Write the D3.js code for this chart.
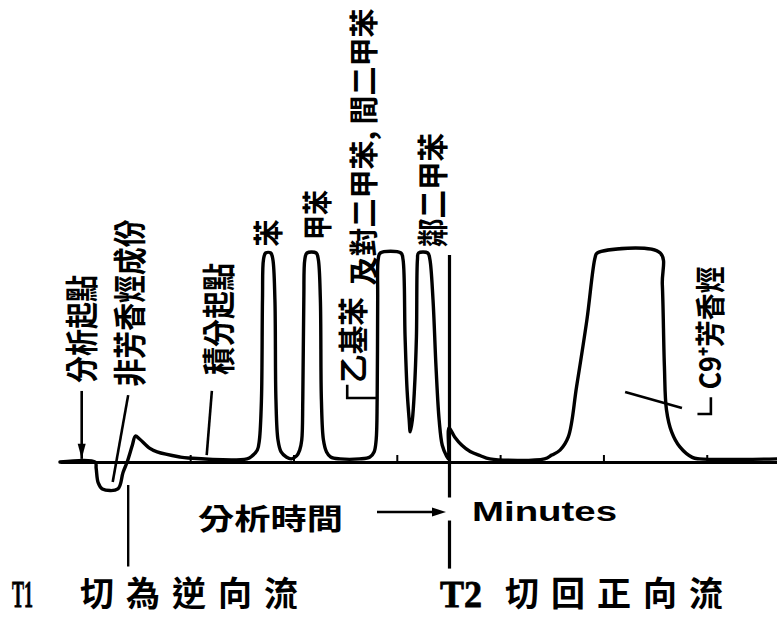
<!DOCTYPE html>
<html><head><meta charset="utf-8">
<script src="https://cdn.jsdelivr.net/npm/d3@7"></script>
<style>
html,body{margin:0;padding:0;background:#fff;}
svg{display:block;}
</style></head>
<body>
<svg id="chart" width="777" height="618"></svg>
<script>
// ---- data (time in minutes, detector signal in % of full scale) ----
const traceTime = [
 -0.26, 0.08, 0.09, 0.11, 0.15, 0.30, 0.35, 0.39, 0.44, 0.47, 0.51, 0.61, 0.68, 0.90, 0.98, 1.55,
 1.60, 1.65, 1.67, 1.69, 1.70, 1.71, 1.73, 1.78, 1.80, 1.82, 1.83, 1.85, 1.88, 1.93, 1.98,
 2.03, 2.06, 2.08, 2.09, 2.10, 2.11, 2.13, 2.22, 2.24, 2.26, 2.27, 2.29, 2.32, 2.36, 2.45, 2.64,
 2.74, 2.78, 2.80, 2.81, 2.815, 2.82, 2.84, 3.04, 3.06, 3.08, 3.10, 3.12, 3.13,
 3.15, 3.17, 3.19, 3.20, 3.21, 3.30, 3.32, 3.35, 3.38, 3.41, 3.44, 3.48, 3.50,
 3.505, 3.56, 3.63, 3.71, 3.81, 3.90, 4.43,
 4.50, 4.58, 4.66, 4.74, 4.84, 4.92, 4.94, 5.55, 5.57, 5.59, 5.61, 5.66, 5.74, 5.86, 5.93, 6.68
];
const traceSignal = [
 0, 0, -3, -10, -12.9, -12.9, -5, 0, 8, 12.4, 11, 6.5, 4.8, 2.4, 1.9, 1.5,
 2.9, 5.7, 10.5, 30, 78, 97, 100, 100, 97, 78, 30, 10.5, 4.8, 2.4, 1.5,
 2.9, 5.7, 10.5, 30, 78, 97, 100, 100, 97, 78, 30, 10.5, 4.8, 2.4, 1.5, 1.5,
 2.4, 4.8, 10.5, 30, 78, 97, 100, 100, 97, 60, 34, 20, 14.4,
 20, 34, 60, 97, 100, 100, 97, 78, 45, 20, 8, 3, 1.5,
 16.3, 12, 8, 5, 3, 1.5, 1.5,
 3.3, 5.7, 12, 36, 68, 98, 100, 100, 85, 46, 25, 14.4, 7.2, 2.2, 1.5, 1.5
];
const minuteTicks = [1, 2, 3, 4, 5, 6];
const switchTimes = [0.40, 3.51];              // T1, T2 valve switching
const switchNames = ["T1", "T2"];
const switchTexts = ["切為逆向流", "切回正向流"];
const peakLabels = ["分析起點", "非芳香烴成份", "積分起點", "苯", "甲苯", "乙基苯", "及對二甲苯, 間二甲苯", "鄰二甲苯", "C9⁺芳香烴"];
// leader lines [t0, v0, t1, v1]
const leaderLines = [
 [-0.05, 34, -0.05, 1.5],   // 分析起點 (arrow)
 [0.40, 32, 0.25, -9.6],    // 非芳香烴成份
 [1.21, 34, 1.16, 3.3],     // 積分起點
 [5.21, 33.5, 5.76, 25.8]   // C9+
];

// ---- layout ----
const x = d3.scaleLinear().domain([-0.26, 6.68]).range([60, 777]);
const y = d3.scaleLinear().domain([0, 100]).range([462, 253]);
const svg = d3.select("#chart");
const cjk = "'Noto Sans CJK TC','Noto Sans CJK SC',sans-serif";

// baseline axis with minute ticks
const axis = d3.axisTop(x).tickValues(minuteTicks).tickSize(7).tickSizeOuter(0).tickFormat("");
const ax = svg.append("g").attr("transform", `translate(0,${y(0)})`).call(axis);
ax.select(".domain").attr("stroke", "#000").attr("stroke-width", 3.2);
ax.selectAll(".tick line").attr("stroke", "#000").attr("stroke-width", 2);

// chromatogram trace
const pts = traceTime.map((t, i) => [t, traceSignal[i]]);
const line = d3.line().x(d => x(d[0])).y(d => y(d[1])).curve(d3.curveCatmullRom.alpha(0.5));
svg.append("path").attr("d", line(pts)).attr("fill", "none")
  .attr("stroke", "#000").attr("stroke-width", 3.4).attr("stroke-linejoin", "round").attr("stroke-linecap", "round");

// leader lines
svg.selectAll("line.leader").data(leaderLines).enter().append("line").attr("class", "leader")
  .attr("x1", d => x(d[0])).attr("y1", d => y(d[1])).attr("x2", d => x(d[2])).attr("y2", d => y(d[3]))
  .attr("stroke", "#000").attr("stroke-width", 2.6);
// arrowhead on 分析起點
{
  const ax0 = x(leaderLines[0][2]), ay0 = y(leaderLines[0][3]);
  svg.append("path").attr("d", `M${ax0},${ay0} L${ax0-4},${ay0-15} L${ax0+4},${ay0-15} Z`).attr("fill", "#000");
}
// brackets for 乙基苯 and C9+
svg.append("path").attr("d", `M${x(2.52)},${y(37)} V${y(30.6)} H${x(2.81)}`)
  .attr("fill", "none").attr("stroke", "#000").attr("stroke-width", 2.6);
svg.append("path").attr("d", `M${x(5.91)},${y(23)} H${x(6.04)} V${y(31)}`)
  .attr("fill", "none").attr("stroke", "#000").attr("stroke-width", 2.6);

// switch lines T1 / T2
svg.append("line").attr("x1", x(switchTimes[0])).attr("x2", x(switchTimes[0]))
  .attr("y1", y(-11)).attr("y2", y(-50)).attr("stroke", "#000").attr("stroke-width", 2.4);
svg.append("line").attr("x1", x(switchTimes[1])).attr("x2", x(switchTimes[1]))
  .attr("y1", y(99)).attr("y2", y(-17)).attr("stroke", "#000").attr("stroke-width", 3.2);
svg.append("line").attr("x1", x(switchTimes[1])).attr("x2", x(switchTimes[1]))
  .attr("y1", y(-28)).attr("y2", y(-51)).attr("stroke", "#000").attr("stroke-width", 3.2);

// rotated labels
const labelLayout = [
 {cx: 80,  cy: 329, len: 108, fs: 33},
 {cx: 128, cy: 303, len: 167, fs: 33},
 {cx: 217, cy: 319, len: 112, fs: 33},
 {cx: 266, cy: 233, len: 27,  fs: 30},
 {cx: 315, cy: 215, len: 50,  fs: 30},
 {cx: 351, cy: 340, len: 86,  fs: 30},
 {cx: 362, cy: 147, len: 0,   fs: 29},
 {cx: 430, cy: 190, len: 114, fs: 31},
 {cx: 708, cy: 328, len: 123, fs: 30}
];
svg.selectAll("text.plab").data(peakLabels).enter().append("text").attr("class", "plab")
  .attr("transform", (d, i) => `translate(${labelLayout[i].cx},${labelLayout[i].cy}) rotate(-90)`)
  .attr("text-anchor", "middle").attr("dominant-baseline", "central")
  .attr("font-family", cjk).attr("font-weight", 700)
  .attr("font-size", (d, i) => labelLayout[i].fs)
  .each(function(d, i) {
    if (labelLayout[i].len) d3.select(this).attr("textLength", labelLayout[i].len).attr("lengthAdjust", "spacingAndGlyphs");
  })
  .text(d => d);

// time axis caption
svg.append("text").attr("x", 198).attr("y", 517).attr("dominant-baseline", "central")
  .attr("font-family", cjk).attr("font-weight", 700).attr("font-size", 29)
  .attr("textLength", 145).attr("lengthAdjust", "spacingAndGlyphs").text("分析時間");
svg.append("line").attr("x1", 377).attr("x2", 440).attr("y1", 512).attr("y2", 512)
  .attr("stroke", "#000").attr("stroke-width", 2.6);
svg.append("path").attr("d", "M446,512 L432,507.5 L432,516.5 Z").attr("fill", "#000");
svg.append("text").attr("x", 472).attr("y", 521)
  .attr("font-family", "'Liberation Sans',Arial,sans-serif").attr("font-weight", 700).attr("font-size", 28)
  .attr("textLength", 145).attr("lengthAdjust", "spacingAndGlyphs").text("Minutes");

// switch captions
const capLayout = [
 {tx: 12, tlen: 21, cx: 80},
 {tx: 440, tlen: 42, cx: 505}
];
switchNames.forEach((n, i) => {
  svg.append("text").attr("x", capLayout[i].tx).attr("y", 607)
    .attr("font-family", "'Liberation Serif','DejaVu Serif',serif").attr("font-weight", 700).attr("font-size", 38)
    .attr("stroke", "#000").attr("stroke-width", 0.8)
    .attr("textLength", capLayout[i].tlen).attr("lengthAdjust", "spacingAndGlyphs").text(n);
  svg.append("text").attr("x", capLayout[i].cx).attr("y", 606)
    .attr("font-family", cjk).attr("font-weight", 700).attr("font-size", 34)
    .attr("letter-spacing", 12).text(switchTexts[i]);
});
</script>
</body></html>
